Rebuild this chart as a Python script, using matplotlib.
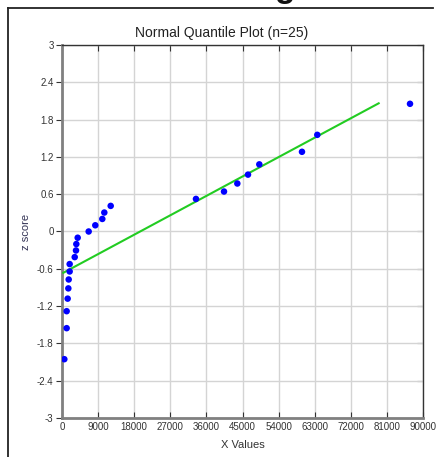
import matplotlib
matplotlib.use("Agg")
import matplotlib.pyplot as plt
from matplotlib.lines import Line2D

plt.rcParams['font.family'] = ['Liberation Sans', 'DejaVu Sans']

# Data
x_values = [580, 1160, 1160, 1410, 1580, 1670, 1910, 1910, 3170, 3490, 3570, 3910,
            6650, 8300, 10050, 10550, 12140, 33400, 40390, 43710, 46370, 49190,
            59830, 63650, 86760]
z_scores = [-2.054, -1.555, -1.282, -1.080, -0.915, -0.772, -0.643, -0.524, -0.412,
            -0.305, -0.202, -0.100, 0.0, 0.100, 0.202, 0.305, 0.412, 0.524, 0.643,
            0.772, 0.915, 1.080, 1.282, 1.555, 2.054]
fit_x = [330, 78950]
fit_z = [-0.664, 2.062]
x_ticks = [0, 9000, 18000, 27000, 36000, 45000, 54000, 63000, 72000, 81000, 90000]
y_ticks = [-3, -2.4, -1.8, -1.2, -0.6, 0, 0.6, 1.2, 1.8, 2.4, 3]
y_tick_labels = ['-3', '-2.4', '-1.8', '-1.2', '-0.6', '0', '0.6', '1.2', '1.8', '2.4', '3']

W, H = 436, 457
fig = plt.figure(figsize=(W / 100, H / 100), dpi=100)
fig.patch.set_facecolor('white')

# outer frame (left and top lines)
fig.add_artist(Line2D([8 / W, 8 / W], [0, 1 - 8 / H], transform=fig.transFigure,
                      color='#222222', lw=1.3))
fig.add_artist(Line2D([8 / W, 433 / W], [1 - 8 / H, 1 - 8 / H], transform=fig.transFigure,
                      color='#222222', lw=1.3))
# cropped heading (only its descender is visible in the reference)
fig.text(285 / W, 1 + 3 / H, 'g', fontsize=24, fontweight='bold', ha='center',
         va='baseline', color='#111111')

ax = fig.add_axes([62 / W, 1 - 418 / H, (423 - 62) / W, (418 - 45) / H])
ax.set_xlim(0, 90000)
ax.set_ylim(-3, 3)
ax.set_xticks(x_ticks)
ax.set_xticklabels([str(t) for t in x_ticks])
ax.set_yticks(y_ticks)
ax.set_yticklabels(y_tick_labels)
ax.grid(True, color='#d4d4d4', lw=1)
ax.set_axisbelow(True)

ax.plot(fit_x, fit_z, color='#22cc22', lw=1.5, zorder=3)
ax.scatter(x_values, z_scores, s=22, color='#0000ff', edgecolors='none', zorder=4)

for s in ['left', 'bottom']:
    ax.spines[s].set_color('#808080')
    ax.spines[s].set_linewidth(2)
for s in ['top', 'right']:
    ax.spines[s].set_color('#333333')
    ax.spines[s].set_linewidth(1)

ax.tick_params(axis='x', direction='in', length=4, color='#333333', labelsize=7,
               labelcolor='#333333', pad=3, top=True)
ax.tick_params(axis='y', direction='out', length=4, color='#333333', labelsize=7,
               labelcolor='#333333', pad=2)
ax2 = ax.secondary_yaxis('right')
ax2.set_yticks(y_ticks)
ax2.tick_params(direction='in', length=4, color='#333333', labelright=False)
ax2.spines['right'].set_visible(False)

ax.set_xlabel('X Values', fontsize=8, color='#333333', labelpad=6)
ax.set_ylabel('z score', fontsize=8, color='#333355', labelpad=4)
fig.text(222 / W, 1 - 33 / H, 'Normal Quantile Plot (n=25)', fontsize=10,
         ha='center', va='center', color='#222222')

fig.savefig('out.png', dpi=100)
